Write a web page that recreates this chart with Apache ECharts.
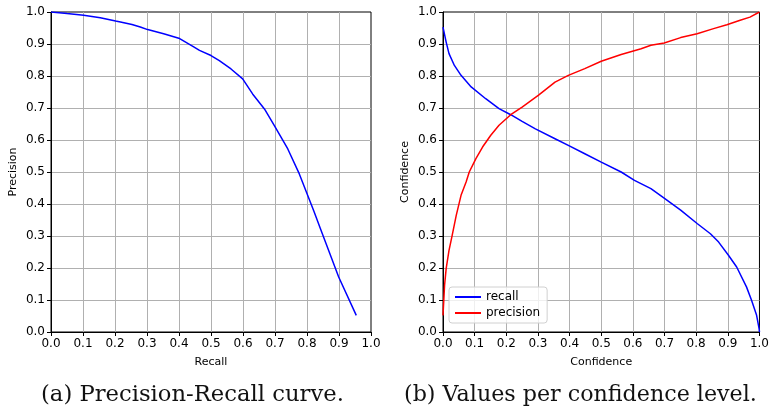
<!DOCTYPE html>
<html><head><meta charset="utf-8">
<script src="https://cdn.jsdelivr.net/npm/echarts@6/dist/echarts.min.js"></script>
<style>html,body{margin:0;padding:0;background:#fff}#c{width:772px;height:415px}</style>
</head><body><div id="c"></div>
<script>
// Left chart: Precision-Recall curve
const prRecall = [0, 0.05, 0.102, 0.154, 0.202, 0.217, 0.253, 0.279, 0.302, 0.352, 0.402, 0.446, 0.464, 0.5, 0.526, 0.5625, 0.599, 0.63, 0.667, 0.698, 0.74, 0.776, 0.821, 0.842, 0.899, 0.954];
const prPrecision = [1.0, 0.995, 0.99, 0.982, 0.972, 0.969, 0.961, 0.953, 0.945, 0.932, 0.917, 0.891, 0.880, 0.864, 0.848, 0.822, 0.791, 0.744, 0.697, 0.645, 0.572, 0.494, 0.379, 0.323, 0.172, 0.052];
// Right chart: values per confidence level
const recallConf = [0, 0.010, 0.019, 0.036, 0.057, 0.089, 0.135, 0.177, 0.214, 0.25, 0.292, 0.354, 0.396, 0.448, 0.5, 0.563, 0.605, 0.657, 0.701, 0.751, 0.803, 0.845, 0.871, 0.902, 0.928, 0.959, 0.975, 0.991, 0.999, 1.0];
const recallVals = [0.953, 0.906, 0.870, 0.833, 0.802, 0.766, 0.729, 0.698, 0.679, 0.658, 0.635, 0.604, 0.583, 0.557, 0.531, 0.5, 0.474, 0.448, 0.417, 0.381, 0.339, 0.307, 0.281, 0.240, 0.203, 0.141, 0.099, 0.052, 0.01, 0.0];
const precConf = [0, 0.005, 0.010, 0.019, 0.029, 0.042, 0.057, 0.073, 0.083, 0.104, 0.125, 0.151, 0.177, 0.214, 0.25, 0.302, 0.354, 0.396, 0.448, 0.5, 0.563, 0.626, 0.657, 0.699, 0.751, 0.803, 0.855, 0.897, 0.939, 0.97, 1.0];
const precVals = [0.052, 0.146, 0.198, 0.255, 0.302, 0.365, 0.427, 0.469, 0.5, 0.542, 0.578, 0.615, 0.646, 0.679, 0.703, 0.740, 0.781, 0.802, 0.823, 0.846, 0.867, 0.885, 0.896, 0.903, 0.920, 0.932, 0.948, 0.960, 0.974, 0.984, 1.0];
const tickLabels = ['0.0','0.1','0.2','0.3','0.4','0.5','0.6','0.7','0.8','0.9','1.0'];

const zip = (a, b) => a.map((v, i) => [v, b[i]]);
const font = 'DejaVu Sans';
const tickFmt = v => tickLabels[Math.round(v * 10)];

function ax(gi, name, gap) {
  return {
    type: 'value', gridIndex: gi, min: 0, max: 1, interval: 0.1,
    name: name, nameLocation: 'middle', nameGap: gap,
    nameTextStyle: { fontFamily: font, fontSize: 11, color: '#000' },
    axisLine: { show: true, onZero: false, lineStyle: { color: '#000', width: 1 } },
    axisTick: { show: true, length: 4, lineStyle: { color: '#000' } },
    axisLabel: { fontFamily: font, fontSize: 12, color: '#000', margin: 6, formatter: tickFmt },
    splitLine: { show: true, showMinLine: false, showMaxLine: false, lineStyle: { color: '#b0b0b0', width: 1 } }
  };
}

const chart = echarts.init(document.getElementById('c'), null, { renderer: 'canvas' });
chart.setOption({
  animation: false,
  backgroundColor: '#fff',
  grid: [
    { left: 51, right: 401, top: 12, bottom: 83, show: true, borderColor: '#000', borderWidth: 1 },
    { left: 443, right: 10, top: 12, bottom: 83, show: true, borderColor: '#000', borderWidth: 1 }
  ],
  xAxis: [ax(0, 'Recall', 25), ax(1, 'Confidence', 25)],
  yAxis: [ax(0, 'Precision', 32), ax(1, 'Confidence', 32)],
  legend: {
    orient: 'vertical', left: 449, top: 287,
    data: ['recall', 'precision'],
    icon: 'rect', itemWidth: 26, itemHeight: 2, itemGap: 4,
    padding: [4, 7, 4, 6],
    borderColor: '#d0d0d0', borderWidth: 1, borderRadius: 3,
    backgroundColor: 'rgba(255,255,255,0.8)',
    textStyle: { fontFamily: font, fontSize: 12, color: '#000' }
  },
  series: [
    { name: 'PR', type: 'line', xAxisIndex: 0, yAxisIndex: 0, data: zip(prRecall, prPrecision),
      showSymbol: false, lineStyle: { color: '#0000ff', width: 1.5 }, itemStyle: { color: '#0000ff' } },
    { name: 'recall', type: 'line', xAxisIndex: 1, yAxisIndex: 1, data: zip(recallConf, recallVals),
      showSymbol: false, lineStyle: { color: '#0000ff', width: 1.5 }, itemStyle: { color: '#0000ff' } },
    { name: 'precision', type: 'line', xAxisIndex: 1, yAxisIndex: 1, data: zip(precConf, precVals),
      showSymbol: false, lineStyle: { color: '#ff0000', width: 1.5 }, itemStyle: { color: '#ff0000' } }
  ],
  graphic: [
    { type: 'text', left: 41, top: 384, style: { text: '(a) Precision-Recall curve.', font: '22.7px "DejaVu Serif"', fill: '#111' } },
    { type: 'text', left: 404, top: 384, style: { text: '(b) Values per confidence level.', font: '22.2px "DejaVu Serif"', fill: '#111' } }
  ]
});
</script></body></html>
